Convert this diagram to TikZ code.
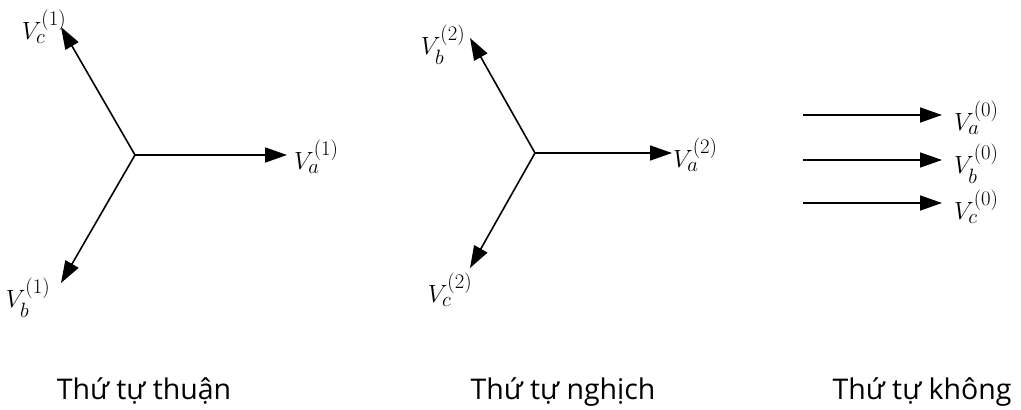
\documentclass[tikz,border=0pt]{standalone}
\usepackage{fontspec}
\usepackage{amsmath}
\usetikzlibrary{arrows.meta}
\newfontfamily\capfont{Open Sans}

\tikzset{
    vec/.style={-{Triangle[length=22pt,width=15pt]}, line width=1.6pt},
    lbl/.style={font=\fontsize{29}{34}\selectfont, inner sep=0pt},
    captxt/.style={font=\capfont\fontsize{28.5}{34}\selectfont, anchor=base, inner sep=0pt}
}

\begin{document}
\begin{tikzpicture}[x=1pt, y=1pt]

    \useasboundingbox (0,0) rectangle (1021,410);

    % Positive sequence
    \coordinate (O1) at (135,255);
    \coordinate (a1) at (287,255);
    \coordinate (b1) at (61,127);
    \coordinate (c1) at (61,383);
    \draw[vec] (O1) -- (a1);
    \draw[vec] (O1) -- (b1);
    \draw[vec] (O1) -- (c1);
    \node[lbl, anchor=west] (Va1) at (294,253) {$V_a^{(1)}$};
    \node[lbl] (Vb1) at (28,112) {$V_b^{(1)}$};
    \node[lbl] (Vc1) at (44,383) {$V_c^{(1)}$};

    % Negative sequence
    \coordinate (O2) at (535,257);
    \coordinate (a2) at (672,257);
    \coordinate (b2) at (470,372);
    \coordinate (c2) at (470,142);
    \draw[vec] (O2) -- (a2);
    \draw[vec] (O2) -- (b2);
    \draw[vec] (O2) -- (c2);
    \node[lbl, anchor=west] (Va2) at (673,255) {$V_a^{(2)}$};
    \node[lbl] (Vb2) at (443,365) {$V_b^{(2)}$};
    \node[lbl] (Vc2) at (450,120) {$V_c^{(2)}$};

    % Zero sequence
    \coordinate (s1) at (803,295);
    \coordinate (t1) at (942,295);
    \coordinate (s2) at (803,250);
    \coordinate (t2) at (942,250);
    \coordinate (s3) at (803,207);
    \coordinate (t3) at (942,207);
    \draw[vec] (s1) -- (t1);
    \draw[vec] (s2) -- (t2);
    \draw[vec] (s3) -- (t3);
    \node[lbl, anchor=west] (Va0) at (954,292) {$V_a^{(0)}$};
    \node[lbl, anchor=west] (Vb0) at (954,246) {$V_b^{(0)}$};
    \node[lbl, anchor=west] (Vc0) at (954,203) {$V_c^{(0)}$};

    % Captions
    \node[captxt] (cap1) at (144,10) {Thứ tự thuận};
    \node[captxt] (cap2) at (563,10) {Thứ tự nghịch};
    \node[captxt] (cap3) at (922,10) {Thứ tự không};

\end{tikzpicture}
\end{document}
